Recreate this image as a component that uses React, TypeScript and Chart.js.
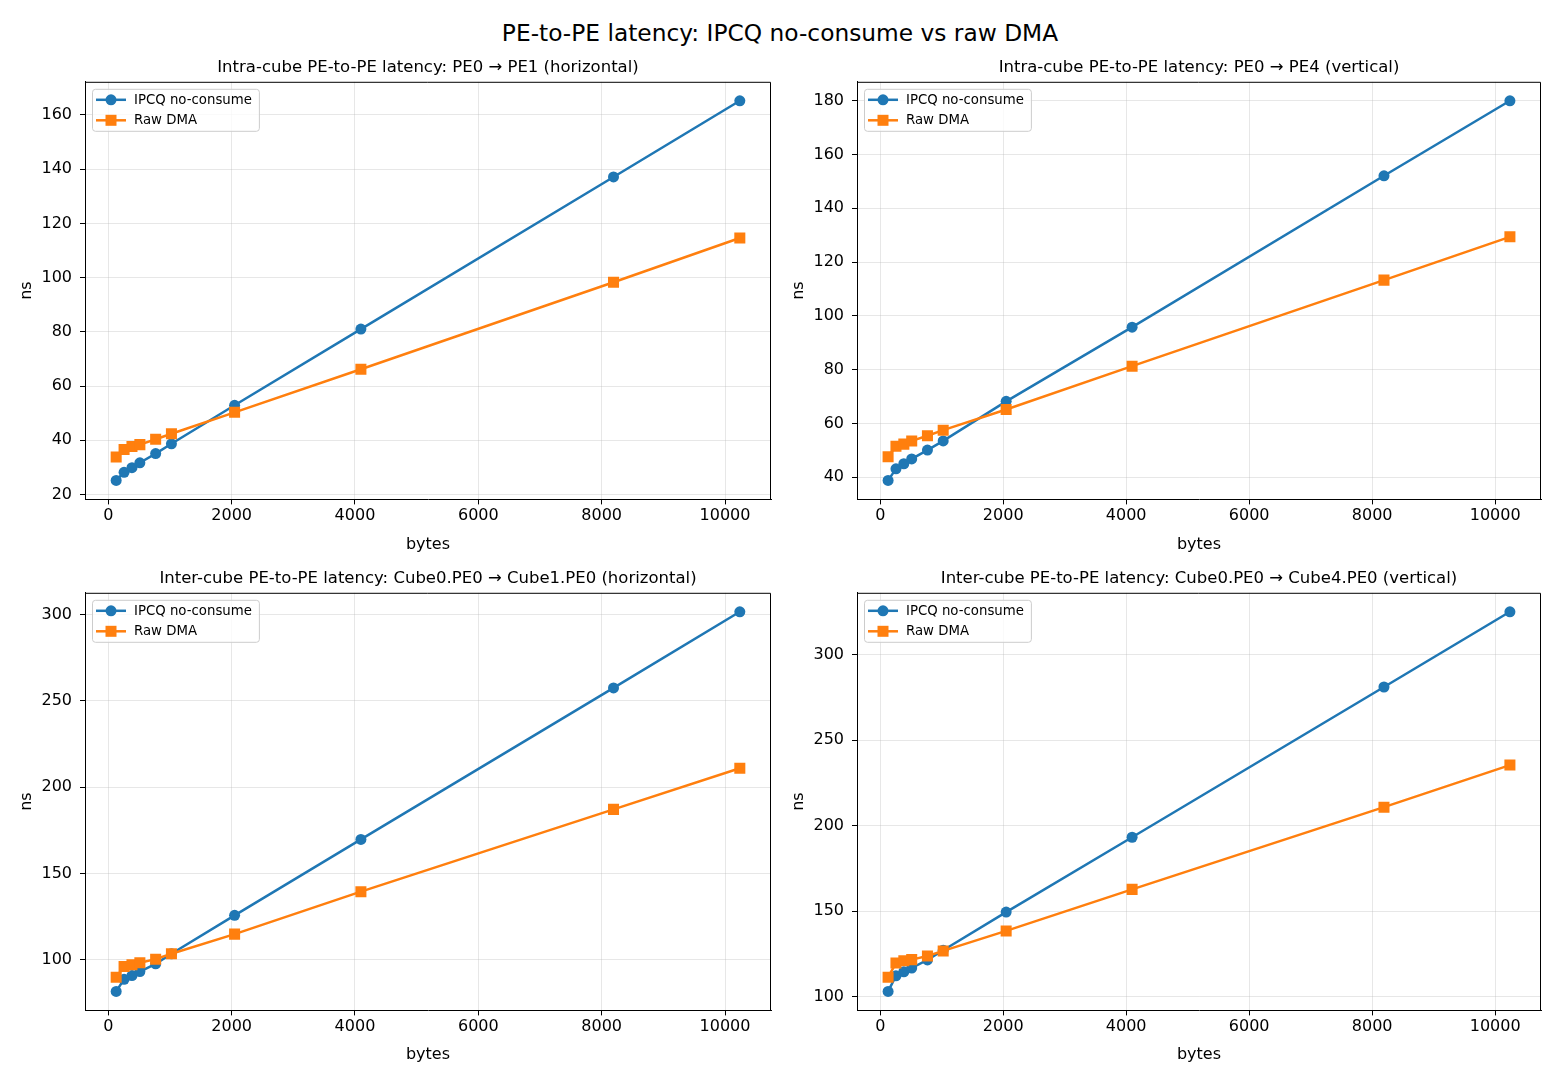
import { useEffect, useRef } from 'react';
import { Chart, registerables } from 'chart.js';
import type { Chart as ChartType, Plugin } from 'chart.js';

Chart.register(...registerables);

const FONT = '"DejaVu Sans", sans-serif';
const BLUE = '#1f77b4';
const ORANGE = '#ff7f0e';
const GRID = 'rgba(176,176,176,0.3)';

// message sizes (bytes)
const bytesSizes = [128, 256, 384, 512, 768, 1024, 2048, 4096, 8192, 10240];
const xTickValues = [0, 2000, 4000, 6000, 8000, 10000];

// intra-cube, PE0 -> PE1 (horizontal)
const intraHIpcq = [25.2, 28.2, 29.9, 31.7, 35.1, 38.7, 52.9, 81.0, 137.1, 165.2];
const intraHDma = [33.8, 36.6, 37.7, 38.4, 40.4, 42.4, 50.3, 66.2, 98.3, 114.6];
const intraHTicks = [20, 40, 60, 80, 100, 120, 140, 160];

// intra-cube, PE0 -> PE4 (vertical)
const intraVIpcq = [38.8, 43.1, 45.0, 46.8, 50.1, 53.5, 68.2, 95.8, 152.1, 180.0];
const intraVDma = [47.6, 51.5, 52.3, 53.5, 55.4, 57.5, 65.2, 81.3, 113.3, 129.4];
const intraVTicks = [40, 60, 80, 100, 120, 140, 160, 180];

// inter-cube, Cube0.PE0 -> Cube1.PE0 (horizontal)
const interHIpcq = [81.7, 88.7, 90.9, 93.2, 97.7, 103.5, 125.8, 169.8, 257.6, 301.7];
const interHDma = [89.9, 96.1, 97.1, 98.3, 100.4, 103.5, 114.9, 139.5, 187.2, 211.0];
const interHTicks = [100, 150, 200, 250, 300];

// inter-cube, Cube0.PE0 -> Cube4.PE0 (vertical)
const interVIpcq = [103.1, 112.2, 114.6, 116.8, 121.5, 127.2, 149.5, 193.3, 281.2, 325.2];
const interVDma = [111.4, 119.7, 121.1, 121.7, 123.8, 126.8, 138.5, 162.8, 210.9, 235.5];
const interVTicks = [100, 150, 200, 250, 300];

const seriesLabels = ['IPCQ no-consume', 'Raw DMA'];

// black box around the plot area (matplotlib spines)
const framePlugin: Plugin<'line'> = {
  id: 'frame',
  afterDatasetsDraw(chart) {
    const { ctx, chartArea: a } = chart;
    ctx.save();
    ctx.strokeStyle = '#000';
    ctx.lineWidth = 1;
    ctx.beginPath();
    ctx.moveTo(a.left, a.top + 0.5);
    ctx.lineTo(a.right - 0.5, a.top + 0.5);
    ctx.lineTo(a.right - 0.5, a.bottom);
    ctx.stroke();
    ctx.restore();
  },
};

// matplotlib-like legend in the upper left corner
const legendPlugin: Plugin<'line'> = {
  id: 'mplLegend',
  afterDraw(chart) {
    const { ctx, chartArea: a } = chart;
    const sets = chart.data.datasets as any[];
    ctx.save();
    ctx.font = `13.3px ${FONT}`;
    let textW = 0;
    sets.forEach((d) => { textW = Math.max(textW, ctx.measureText(d.label).width); });
    const bx = a.left + 7;
    const by = a.top + 7;
    const bw = 42 + textW + 7;
    const bh = 42;
    ctx.beginPath();
    ctx.roundRect(bx + 0.5, by + 0.5, bw, bh, 3);
    ctx.fillStyle = 'rgba(255,255,255,0.8)';
    ctx.fill();
    ctx.strokeStyle = '#cccccc';
    ctx.lineWidth = 1;
    ctx.stroke();
    sets.forEach((d, i) => {
      const cy = by + 11 + i * 20.5;
      ctx.strokeStyle = d.borderColor;
      ctx.lineWidth = 2.5;
      ctx.beginPath();
      ctx.moveTo(bx + 4, cy);
      ctx.lineTo(bx + 34, cy);
      ctx.stroke();
      ctx.fillStyle = d.borderColor;
      ctx.beginPath();
      if (d.pointStyle === 'rect') {
        ctx.rect(bx + 19 - 5.5, cy - 5.5, 11, 11);
      } else {
        ctx.arc(bx + 19, cy, 5.5, 0, Math.PI * 2);
      }
      ctx.fill();
      ctx.fillStyle = '#000';
      ctx.textBaseline = 'middle';
      ctx.textAlign = 'left';
      ctx.fillText(d.label, bx + 42, cy + 0.5);
    });
    ctx.restore();
  },
};

interface PanelProps {
  title: string;
  ipcq: number[];
  dma: number[];
  yTicks: number[];
  left: number;
  top: number;
  width: number;
  height: number;
  padRight: number;
  xAxisHeight: number;
}

function Panel({ title, ipcq, dma, yTicks, left, top, width, height, padRight, xAxisHeight }: PanelProps) {
  const canvasRef = useRef<HTMLCanvasElement>(null);
  const chartRef = useRef<ChartType | null>(null);

  useEffect(() => {
    if (!canvasRef.current) return;
    if (chartRef.current) chartRef.current.destroy();

    const all = [...ipcq, ...dma];
    const yLo = Math.min(...all);
    const yHi = Math.max(...all);
    const xLo = bytesSizes[0];
    const xHi = bytesSizes[bytesSizes.length - 1];
    const tickFont = { family: FONT, size: 16 };

    chartRef.current = new Chart(canvasRef.current, {
      type: 'line',
      data: {
        datasets: [
          {
            label: seriesLabels[0],
            data: bytesSizes.map((b, i) => ({ x: b, y: ipcq[i] })),
            borderColor: BLUE,
            backgroundColor: BLUE,
            borderWidth: 2.5,
            pointStyle: 'circle',
            pointRadius: 5.5,
            pointHoverRadius: 5.5,
            pointBorderWidth: 0,
            tension: 0,
            order: 1,
          },
          {
            label: seriesLabels[1],
            data: bytesSizes.map((b, i) => ({ x: b, y: dma[i] })),
            borderColor: ORANGE,
            backgroundColor: ORANGE,
            borderWidth: 2.5,
            pointStyle: 'rect',
            pointRadius: 7.8,
            pointHoverRadius: 7.8,
            pointBorderWidth: 0,
            tension: 0,
            order: 0,
          },
        ],
      },
      options: {
        responsive: false,
        animation: false,
        events: [],
        layout: { autoPadding: false, padding: { left: 13, right: padRight, top: 0, bottom: 0 } },
        scales: {
          x: {
            type: 'linear',
            min: xLo - 0.05 * (xHi - xLo),
            max: xHi + 0.05 * (xHi - xLo),
            afterBuildTicks: (s) => { s.ticks = xTickValues.map((v) => ({ value: v })); },
            afterFit: (s) => {
              s.height = xAxisHeight;
              s.paddingLeft = 0;
              s.paddingRight = 0;
            },
            ticks: { color: '#000', font: tickFont, padding: 2, maxRotation: 0, callback: (v) => String(v) },
            grid: { color: GRID, tickColor: '#000', tickLength: 5, lineWidth: 1 },
            border: { color: '#000', width: 1 },
            title: { display: true, text: 'bytes', color: '#000', font: tickFont, padding: { top: 4, bottom: 4 } },
          },
          y: {
            type: 'linear',
            min: yLo - 0.05 * (yHi - yLo),
            max: yHi + 0.05 * (yHi - yLo),
            afterBuildTicks: (s) => { s.ticks = yTicks.map((v) => ({ value: v })); },
            afterFit: (s) => {
              s.width = 72;
              s.paddingTop = 0;
              s.paddingBottom = 0;
            },
            ticks: { color: '#000', font: tickFont, padding: 8, callback: (v) => String(v) },
            grid: { color: GRID, tickColor: '#000', tickLength: 5, lineWidth: 1 },
            border: { color: '#000', width: 1 },
            title: { display: true, text: 'ns', color: '#000', font: tickFont, padding: { top: 4, bottom: 4 } },
          },
        },
        plugins: {
          legend: { display: false },
          tooltip: { enabled: false },
          title: {
            display: true,
            fullSize: false,
            text: title,
            color: '#000',
            font: { family: FONT, size: 16.5, weight: 'normal' },
            padding: { top: 12, bottom: 4 },
          },
        },
      },
      plugins: [framePlugin, legendPlugin],
    });

    return () => {
      if (chartRef.current) {
        chartRef.current.destroy();
        chartRef.current = null;
      }
    };
  }, [title, ipcq, dma, yTicks, padRight, xAxisHeight]);

  return (
    <div style={{ position: 'absolute', left, top, width, height }}>
      <canvas ref={canvasRef} width={width} height={height} />
    </div>
  );
}

export default function App() {
  return (
    <div style={{ position: 'absolute', left: 0, top: 0, width: 1560, height: 1080, background: '#fff', fontFamily: FONT }}>
      <div style={{ position: 'absolute', left: 0, top: 19, width: 1560, textAlign: 'center', fontSize: 23.3, lineHeight: '28px', color: '#000' }}>
        PE-to-PE latency: IPCQ no-consume vs raw DMA
      </div>
      <Panel
        title="Intra-cube PE-to-PE latency: PE0 → PE1 (horizontal)"
        ipcq={intraHIpcq} dma={intraHDma} yTicks={intraHTicks}
        left={0} top={46} width={772} height={512} padRight={1} xAxisHeight={58.6}
      />
      <Panel
        title="Intra-cube PE-to-PE latency: PE0 → PE4 (vertical)"
        ipcq={intraVIpcq} dma={intraVDma} yTicks={intraVTicks}
        left={772} top={46} width={788} height={512} padRight={19} xAxisHeight={58.6}
      />
      <Panel
        title="Inter-cube PE-to-PE latency: Cube0.PE0 → Cube1.PE0 (horizontal)"
        ipcq={interHIpcq} dma={interHDma} yTicks={interHTicks}
        left={0} top={557} width={772} height={511} padRight={1} xAxisHeight={57.6}
      />
      <Panel
        title="Inter-cube PE-to-PE latency: Cube0.PE0 → Cube4.PE0 (vertical)"
        ipcq={interVIpcq} dma={interVDma} yTicks={interVTicks}
        left={772} top={557} width={788} height={511} padRight={19} xAxisHeight={57.6}
      />
    </div>
  );
}
